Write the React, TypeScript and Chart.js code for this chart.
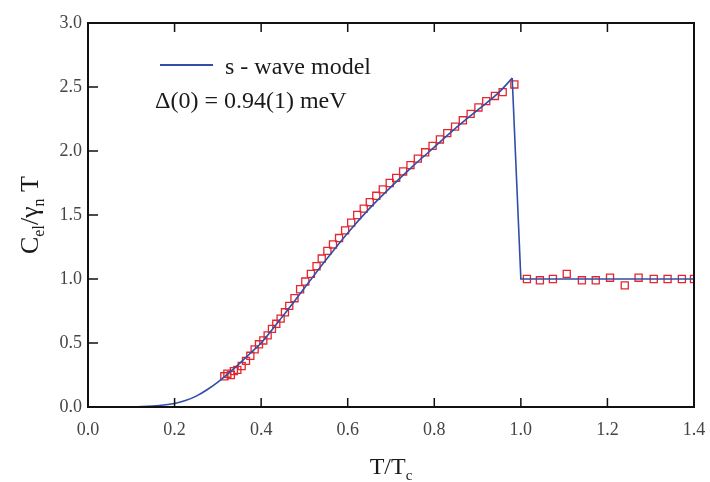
import React, { useEffect, useRef } from 'react';
import { Chart, registerables } from 'chart.js';
Chart.register(...registerables);

// s-wave model curve, superconducting part
const modelT = [0, 0.05, 0.1, 0.125, 0.15, 0.175, 0.2, 0.225, 0.25, 0.275, 0.3, 0.325, 0.35, 0.375, 0.4, 0.45, 0.5, 0.55, 0.6, 0.65, 0.7, 0.75, 0.8, 0.85, 0.9, 0.95, 0.98];
const modelC = [0, 0, 0.002, 0.004, 0.008, 0.015, 0.028, 0.05, 0.085, 0.135, 0.195, 0.265, 0.34, 0.42, 0.5, 0.71, 0.93, 1.15, 1.36, 1.55, 1.72, 1.88, 2.03, 2.18, 2.32, 2.46, 2.57];
// s-wave model curve, jump and normal state
const jumpT = [0.98, 1.0, 1.4];
const jumpC = [2.57, 1.0, 1.0];

// measured data
const dataT = [0.315, 0.322, 0.33, 0.337, 0.345, 0.355, 0.365, 0.375, 0.385, 0.395, 0.405, 0.415, 0.425, 0.435, 0.445, 0.455, 0.465, 0.477, 0.49, 0.502, 0.515, 0.528, 0.54, 0.553, 0.566, 0.58, 0.594, 0.608, 0.622, 0.637, 0.651, 0.666, 0.681, 0.697, 0.712, 0.728, 0.745, 0.762, 0.779, 0.796, 0.813, 0.83, 0.848, 0.866, 0.884, 0.902, 0.92, 0.94, 0.958, 0.985,
  1.014, 1.044, 1.074, 1.106, 1.141, 1.173, 1.206, 1.24, 1.272, 1.307, 1.339, 1.372, 1.4];
const dataC = [0.24, 0.26, 0.25, 0.28, 0.29, 0.32, 0.36, 0.4, 0.45, 0.49, 0.52, 0.56, 0.61, 0.65, 0.69, 0.74, 0.79, 0.85, 0.92, 0.98, 1.04, 1.1, 1.16, 1.22, 1.27, 1.32, 1.38, 1.44, 1.5, 1.55, 1.6, 1.65, 1.7, 1.75, 1.79, 1.84, 1.89, 1.94, 1.99, 2.04, 2.09, 2.14, 2.19, 2.24, 2.29, 2.34, 2.39, 2.43, 2.46, 2.52,
  1.0, 0.99, 1.0, 1.04, 0.99, 0.99, 1.01, 0.95, 1.01, 1.0, 1.0, 1.0, 1.0];

const xTickLabels = ['0.0', '0.2', '0.4', '0.6', '0.8', '1.0', '1.2', '1.4'];
const yTickLabels = ['0.0', '0.5', '1.0', '1.5', '2.0', '2.5', '3.0'];

const legendLine = 's - wave model';
const legendNote = 'Δ(0) = 0.94(1) meV';

const SERIF = '"Liberation Serif", "Times New Roman", serif';
const BLUE = '#2f4fa6';
const RED = '#e3262f';

function drawPieces(ctx: CanvasRenderingContext2D, pieces: { t: string; sub: boolean }[], cx: number, cy: number, main: number, sub: number) {
  let total = 0;
  const widths = pieces.map((p) => {
    ctx.font = `${p.sub ? sub : main}px ${SERIF}`;
    const w = ctx.measureText(p.t).width;
    total += w;
    return w;
  });
  let x = cx - total / 2;
  pieces.forEach((p, i) => {
    ctx.font = `${p.sub ? sub : main}px ${SERIF}`;
    ctx.fillText(p.t, x, cy + (p.sub ? 6 : 0));
    x += widths[i];
  });
}

const decor = {
  id: 'decor',
  afterDraw(chart: any) {
    const { ctx, chartArea: a, scales } = chart;
    const xs = scales.x;
    const ys = scales.y;
    ctx.save();
    // frame
    ctx.strokeStyle = '#111';
    ctx.lineWidth = 2;
    ctx.strokeRect(a.left, a.top, a.right - a.left, a.bottom - a.top);
    // inward ticks
    ctx.lineWidth = 1.5;
    ctx.beginPath();
    xs.ticks.forEach((t: any) => {
      if (t.value <= 0.001 || t.value >= 1.399) return;
      const px = xs.getPixelForValue(t.value);
      ctx.moveTo(px, a.bottom);
      ctx.lineTo(px, a.bottom - 9);
      ctx.moveTo(px, a.top);
      ctx.lineTo(px, a.top + 9);
    });
    ys.ticks.forEach((t: any) => {
      if (t.value <= 0.001 || t.value >= 2.999) return;
      const py = ys.getPixelForValue(t.value);
      ctx.moveTo(a.left, py);
      ctx.lineTo(a.left + 10, py);
    });
    ctx.stroke();

    // legend
    ctx.strokeStyle = BLUE;
    ctx.lineWidth = 1.8;
    ctx.beginPath();
    ctx.moveTo(160, 65);
    ctx.lineTo(213, 65);
    ctx.stroke();
    ctx.fillStyle = '#1a1a1a';
    ctx.textBaseline = 'alphabetic';
    ctx.textAlign = 'left';
    ctx.font = `24px ${SERIF}`;
    ctx.fillText(legendLine, 225, 74);
    ctx.fillText(legendNote, 155, 108);

    // x title
    drawPieces(ctx, [{ t: 'T/T', sub: false }, { t: 'c', sub: true }], 391, 474, 24, 15);

    // y title
    ctx.save();
    ctx.translate(38, 215);
    ctx.rotate(-Math.PI / 2);
    drawPieces(ctx, [
      { t: 'C', sub: false },
      { t: 'el', sub: true },
      { t: '/γ', sub: false },
      { t: 'n', sub: true },
      { t: ' T', sub: false },
    ], 0, 0, 26, 16);
    ctx.restore();
    ctx.restore();
  },
};

export default function App() {
  const ref = useRef<HTMLCanvasElement | null>(null);
  useEffect(() => {
    if (!ref.current) return;
    const chart = new Chart(ref.current, {
      type: 'scatter',
      data: {
        datasets: [
          {
            label: legendLine,
            data: modelT.map((t, i) => ({ x: t, y: modelC[i] })),
            showLine: true,
            borderColor: BLUE,
            borderWidth: 1.6,
            pointRadius: 0,
            cubicInterpolationMode: 'monotone',
            order: 0,
          },
          {
            label: 'jump',
            data: jumpT.map((t, i) => ({ x: t, y: jumpC[i] })),
            showLine: true,
            borderColor: BLUE,
            borderWidth: 1.6,
            pointRadius: 0,
            tension: 0,
            order: 0,
          },
          {
            label: 'data',
            data: dataT.map((t, i) => ({ x: t, y: dataC[i] })),
            showLine: false,
            pointStyle: 'rect',
            pointRadius: 5,
            borderColor: RED,
            backgroundColor: 'rgba(0,0,0,0)',
            pointBorderWidth: 1.3,
            order: 1,
          },
        ],
      },
      options: {
        responsive: false,
        animation: false,
        layout: { padding: { left: 0, right: 16, top: 23, bottom: 0 } },
        plugins: { legend: { display: false }, tooltip: { enabled: false } },
        scales: {
          x: {
            type: 'linear',
            min: 0,
            max: 1.4,
            afterFit: (s: any) => { s.height = 75; s.paddingLeft = 0; s.paddingRight = 0; },
            grid: { display: false, drawTicks: false },
            border: { display: false },
            ticks: {
              stepSize: 0.2,
              padding: 12,
              color: '#444',
              font: { family: SERIF, size: 18 },
              callback: (v: any) => xTickLabels[Math.round(Number(v) / 0.2)] ?? '',
            },
          },
          y: {
            type: 'linear',
            min: 0,
            max: 3,
            afterFit: (s: any) => { s.width = 88; s.paddingTop = 0; s.paddingBottom = 0; },
            grid: { display: false, drawTicks: false },
            border: { display: false },
            ticks: {
              stepSize: 0.5,
              padding: 6,
              color: '#444',
              font: { family: SERIF, size: 18 },
              callback: (v: any) => yTickLabels[Math.round(Number(v) / 0.5)] ?? '',
            },
          },
        },
      },
      plugins: [decor],
    });
    return () => chart.destroy();
  }, []);
  return (
    <div style={{ position: 'fixed', left: 0, top: 0, width: 710, height: 482, background: '#fff' }}>
      <canvas ref={ref} width={710} height={482} />
    </div>
  );
}
